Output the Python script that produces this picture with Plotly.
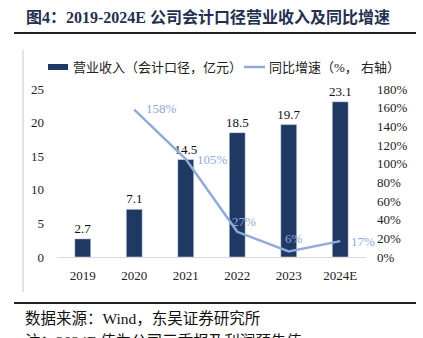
import plotly.graph_objects as go

years = ["2019", "2020", "2021", "2022", "2023", "2024E"]
revenue = [2.7, 7.1, 14.5, 18.5, 19.7, 23.1]
growth = [None, 158, 105, 27, 6, 17]

BAR = "#1F3864"
LINE = "#8FAADC"
SERIF = "Liberation Serif, Times New Roman, Noto Sans CJK SC"
CJK = "Liberation Serif, Noto Sans CJK SC"

W, H = 423, 338
L, R, T, B = 57, 57, 89, 81
pw, ph = W - L - R, H - T - B

def px(x):
    return (x - L) / pw

def py(y):
    return (H - B - y) / ph

fig = go.Figure()
fig.add_trace(go.Bar(
    x=years, y=revenue, marker_color=BAR, name="营业收入（会计口径，亿元）",
    text=[f"{v:.1f}" for v in revenue], textposition="outside", cliponaxis=False,
    constraintext="none",
    textfont=dict(family=SERIF, size=13, color="#111"), showlegend=False,
))
fig.add_trace(go.Scatter(
    x=years, y=growth, yaxis="y2", mode="lines", name="同比增速（%，右轴）",
    line=dict(color=LINE, width=2.5), cliponaxis=False, showlegend=False,
))

shapes = [
    dict(type="line", xref="paper", yref="paper", x0=px(14), x1=px(416), y0=py(33), y1=py(33),
         line=dict(color="#222", width=2)),
    dict(type="line", xref="paper", yref="paper", x0=px(14), x1=px(416), y0=py(303), y1=py(303),
         line=dict(color="#222", width=2)),
    dict(type="line", xref="paper", yref="paper", x0=px(23), x1=px(23), y0=py(50), y1=py(292),
         line=dict(color="#c8c8c8", width=1)),
    dict(type="rect", xref="paper", yref="paper", x0=px(48), x1=px(68), y0=py(64), y1=py(70),
         fillcolor=BAR, line=dict(width=0)),
    dict(type="line", xref="paper", yref="paper", x0=px(244), x1=px(265), y0=py(67), y1=py(67),
         line=dict(color=LINE, width=2.5)),
]

annotations = [
    dict(text="<b>图4：2019-2024E 公司会计口径营业收入及同比增速</b>", x=px(24), y=py(17),
         xref="paper", yref="paper", xanchor="left", yanchor="middle", showarrow=False,
         font=dict(family=CJK, size=16, color="#1F3050")),
    dict(text="营业收入（会计口径，亿元）", x=px(71), y=py(67), xref="paper", yref="paper",
         xanchor="left", yanchor="middle", showarrow=False,
         font=dict(family=CJK, size=13, color="#222")),
    dict(text="同比增速（%， 右轴）", x=px(267), y=py(67), xref="paper", yref="paper",
         xanchor="left", yanchor="middle", showarrow=False,
         font=dict(family=CJK, size=13, color="#222")),
    dict(text="数据来源：Wind，东吴证券研究所", x=px(23), y=py(318), xref="paper", yref="paper",
         xanchor="left", yanchor="middle", showarrow=False,
         font=dict(family=CJK, size=15.5, color="#111")),
    dict(text="注：2024E 值为公司三季报及利润预告值", x=px(23), y=py(341), xref="paper", yref="paper",
         xanchor="left", yanchor="middle", showarrow=False,
         font=dict(family=CJK, size=15.5, color="#111")),
]

# growth labels: (xanchor, xshift, yshift) per point
label_style = [None, ("left", 10, 1), ("left", 9, 0), ("center", 7, 10), ("center", 5, 13), ("left", 9, 0)]
for i, (g, st) in enumerate(zip(growth, label_style)):
    if g is None:
        continue
    xa, xs, ys = st
    annotations.append(dict(
        text=f"{g}%", x=i, y=g, xref="x", yref="y2", xanchor=xa, yanchor="middle",
        xshift=xs, yshift=ys, showarrow=False,
        font=dict(family=SERIF, size=13, color=LINE),
    ))

fig.update_layout(
    width=W, height=H, margin=dict(l=L, r=R, t=T, b=B, pad=0),
    paper_bgcolor="white", plot_bgcolor="white",
    bargap=0.69, shapes=shapes, annotations=annotations,
    xaxis=dict(type="category", range=[-0.5, len(years) - 0.5], autorange=False,
               showgrid=False, showline=True, linecolor="#d9d9d9", linewidth=1,
               ticks="", tickfont=dict(family=SERIF, size=13, color="#222"), ticklabelstandoff=6),
    yaxis=dict(range=[0, 25], dtick=5, showgrid=False, zeroline=False, showline=False,
               tickfont=dict(family=SERIF, size=13, color="#222"), ticklabelstandoff=12),
    yaxis2=dict(range=[0, 180], dtick=20, overlaying="y", side="right", showgrid=False,
                zeroline=False, showline=False, ticksuffix="%",
                tickfont=dict(family=SERIF, size=13, color="#222"), ticklabelstandoff=10),
)

fig.write_html("out.html")
